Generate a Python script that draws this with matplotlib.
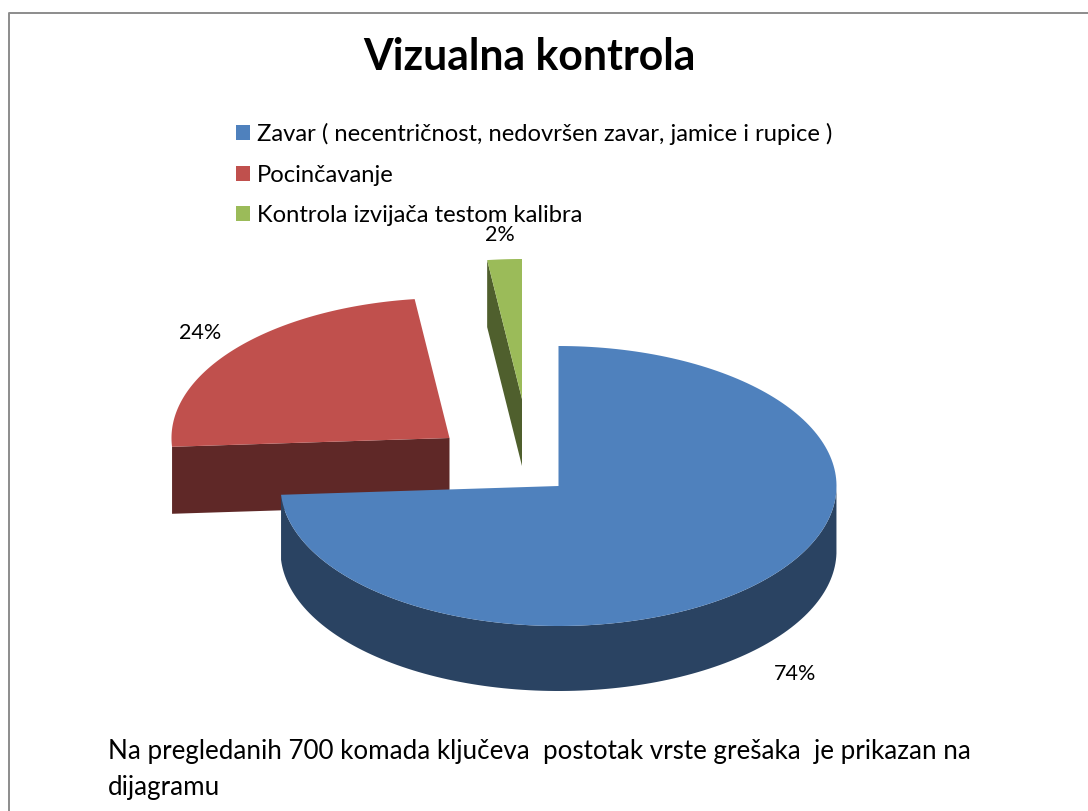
import numpy as np
import matplotlib
matplotlib.use('Agg')
import matplotlib.pyplot as plt
from matplotlib.patches import Patch

title = 'Vizualna kontrola'
categories = ['Zavar ( necentričnost, nedovršen zavar, jamice i rupice )', 'Pocinčavanje', 'Kontrola izvijača testom kalibra']
shares = [74, 24, 2]
top_colors = ['#4f81bd', '#c0504d', '#9bbb59']
side_colors = ['#2a4362', '#5f2827', '#4f5f2d']
note_lines = ['Na pregledanih 700 komada ključeva  postotak vrste grešaka  je prikazan na', 'dijagramu']

plt.rcParams['font.family'] = ['Lato', 'DejaVu Sans']

RX, RY = 278, 140
DEPTH = 66
apexes = [(558.5, 486), (449.5, 438), (522, 399)]
label_pos = [(795, 674), (200, 333), (500, 235)]


def rim(cx, cy, a0, a1):
	# angles clockwise from 12 o'clock, in degrees
	a = np.radians(np.linspace(a0, a1, 200))
	return cx + RX*np.sin(a), cy - RY*np.cos(a)


fig = plt.figure(figsize=(10.88, 8.11), dpi=100)
ax = fig.add_axes([0, 0, 1, 1])
ax.set_xlim(0, 1088)
ax.set_ylim(811, 0)
ax.axis('off')

ax.plot([8.5, 8.5, 1088], [811, 12.5, 12.5], color='#8c8c8c', lw=1.4)

edges = np.cumsum([0] + shares)*3.6
# back to front: red, green, blue
for i in [1, 2, 0]:
	cx, cy = apexes[i]
	x, y = rim(cx, cy, edges[i], edges[i+1])
	if i == 0:
		# outer rim that faces the viewer, from 3 o'clock round to the cut
		keep = (edges[i] + np.linspace(0, edges[i+1]-edges[i], 200)) >= 90
		sx, sy = x[keep], y[keep]
		ax.fill(np.r_[sx, sx[::-1]], np.r_[sy, sy[::-1]+DEPTH-1], color=side_colors[i], lw=0)
	else:
		# cut face from the start of the slice to the apex
		px, py = x[0], y[0]
		ax.fill([px, cx, cx, px], [py, cy, cy+DEPTH+1, py+DEPTH+1], color=side_colors[i], lw=0)
	ax.fill(np.r_[cx, x], np.r_[cy, y], color=top_colors[i], lw=0)
	ax.text(label_pos[i][0], label_pos[i][1], f'{shares[i]}%', fontsize=15.5, ha='center', va='center', color='black')

ax.text(529, 57, title, fontsize=30.8, fontweight='bold', ha='center', va='center', color='black')

handles = [Patch(color=c, lw=0) for c in top_colors]
ax.legend(handles, categories, loc='upper left', bbox_to_anchor=(229/1088, 1-116/811), frameon=False,
	fontsize=17.15, handlelength=0.59, handleheight=0.59, handletextpad=0.3, labelspacing=0.82, borderpad=0.3, borderaxespad=0)

ax.text(108, 751, note_lines[0], fontsize=18.75, ha='left', va='center', color='black')
ax.text(108, 788, note_lines[1], fontsize=18.75, ha='left', va='center', color='black')

fig.savefig('out.png', dpi=100)
